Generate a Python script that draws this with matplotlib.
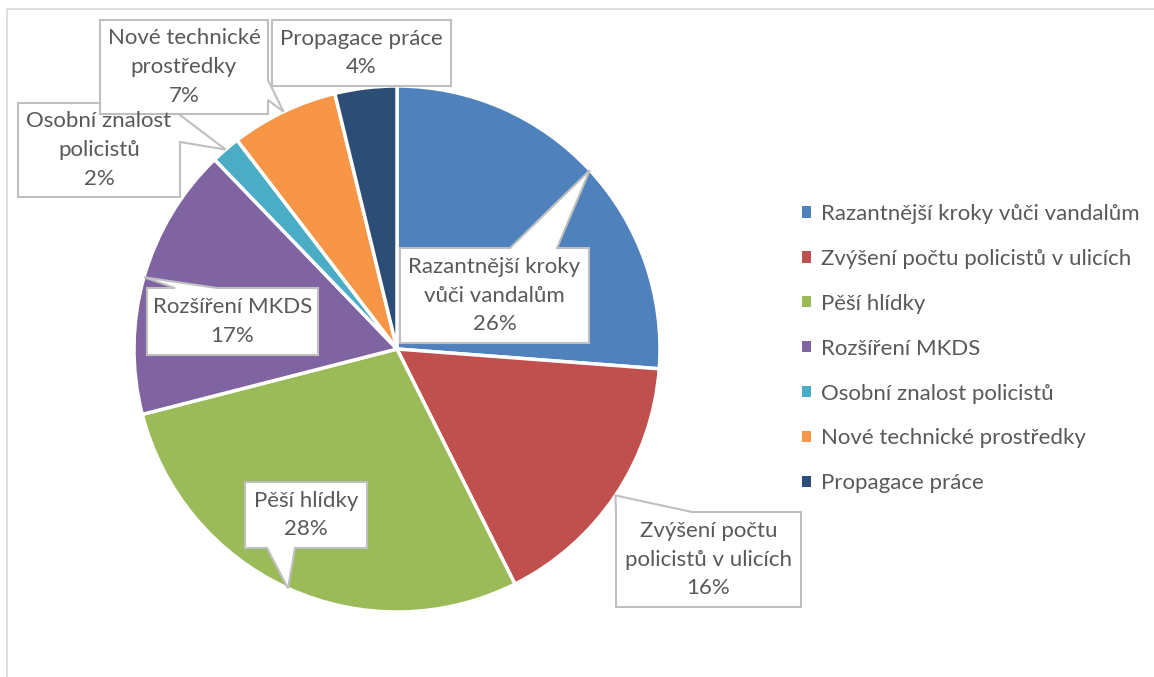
import matplotlib
matplotlib.use('Agg')
import matplotlib.pyplot as plt
from matplotlib.patches import Polygon
import numpy as np

# data
labels = ['Razantnější kroky vůči vandalům', 'Zvýšení počtu policistů v ulicích',
          'Pěší hlídky', 'Rozšíření MKDS', 'Osobní znalost policistů',
          'Nové technické prostředky', 'Propagace práce']
box_text = ['Razantnější kroky\nvůči vandalům', 'Zvýšení počtu\npolicistů v ulicích',
            'Pěší hlídky', 'Rozšíření MKDS', 'Osobní znalost\npolicistů',
            'Nové technické\nprostředky', 'Propagace práce']
values = [26.2, 16.4, 28.4, 16.8, 1.8, 6.6, 3.8]
colors = ['#4F81BD', '#C0504D', '#9BBB59', '#8064A2', '#4BACC6', '#F79646', '#2C4D75']

W, H = 1154, 677
CX, CY, R = 397, 349, 263   # pie centre / radius in pixels (y from top)

# callout boxes: (x0, y0, x1, y1) in pixels from top-left, side of pointer, pointer base
boxes = [
    ((400, 248, 589, 343), 'top', (510, 557)),
    ((616, 512, 801, 607), 'top', (616, 692)),
    ((245, 482, 367, 548), 'bottom', (267, 295)),
    ((147, 288, 318, 355), 'top', (175, 217)),
    ((18, 103, 180, 197), 'right', (115, 142)),
    ((100, 20, 268, 114), 'right', (80, 100)),
    ((272, 20, 451, 86), None, None),
]

TXT = '#595959'
EDGE = '#BFBFBF'
FONT = 'Lato'
FS = 16


def fy(y):
    return H - y


def callout(ax, box, side, base, tip, text):
    x0, y0, x1, y1 = box
    pts = [(x0, y0)]
    if side == 'top':
        pts += [(base[0], y0), tip, (base[1], y0)]
    pts.append((x1, y0))
    if side == 'right':
        pts += [(x1, base[0]), tip, (x1, base[1])]
    pts.append((x1, y1))
    if side == 'bottom':
        pts += [(base[1], y1), tip, (base[0], y1)]
    pts.append((x0, y1))
    if side == 'left':
        pts += [(x0, base[1]), tip, (x0, base[0])]
    pts = [(px, fy(py)) for px, py in pts]
    ax.add_patch(Polygon(pts, closed=True, facecolor='white', edgecolor=EDGE,
                         linewidth=1.5, zorder=5))
    ax.text((x0 + x1) / 2, fy((y0 + y1) / 2), text, ha='center', va='center',
            color=TXT, fontsize=FS, family=FONT, linespacing=1.55, zorder=6)


fig = plt.figure(figsize=(W / 100, H / 100), dpi=100)
ax = fig.add_axes([0, 0, 1, 1])
wedges, _ = ax.pie(values, colors=colors, startangle=90, counterclock=False,
                   center=(CX, fy(CY)), radius=R,
                   wedgeprops=dict(edgecolor='white', linewidth=2.5))
ax.set_xlim(0, W)
ax.set_ylim(0, H)
ax.set_aspect('auto')
ax.axis('off')

# chart area border (left and top visible)
ax.plot([7, 7, W], [0, fy(9), fy(9)], color='#D9D9D9', lw=1.2, zorder=1)

total = sum(values)
cum = np.cumsum([0] + values)
for i in range(len(values)):
    mid = (cum[i] + values[i] / 2) / total * 2 * np.pi
    tip = (CX + R * np.sin(mid), CY - R * np.cos(mid))
    pct = '%.0f%%' % (values[i] / total * 100)
    callout(ax, boxes[i][0], boxes[i][1], boxes[i][2], tip, box_text[i] + '\n' + pct)

leg = ax.legend(wedges, labels, loc='upper left', bbox_to_anchor=(802 / W, 1 - 204 / H),
                frameon=False, handlelength=0.4, handleheight=0.4, handletextpad=0.45,
                labelspacing=1.12, borderaxespad=0, borderpad=0,
                prop=dict(family=FONT, size=FS))
for t in leg.get_texts():
    t.set_color(TXT)
for h in leg.legend_handles:
    h.set_edgecolor('none')

fig.savefig('out.png', dpi=100)
